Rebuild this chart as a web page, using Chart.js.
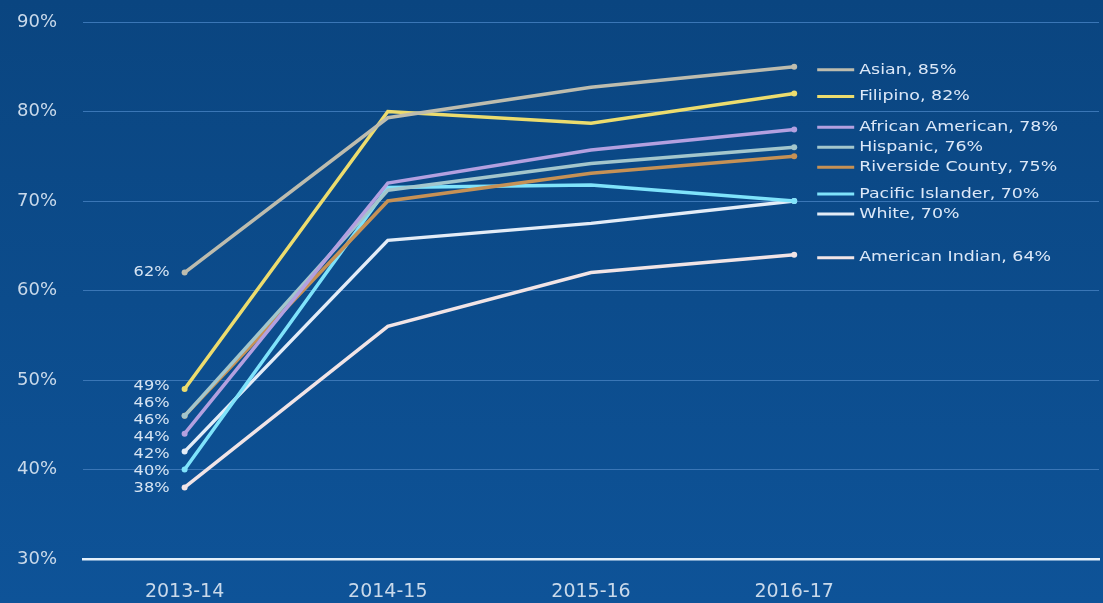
<!DOCTYPE html>
<html>
<head>
<meta charset="utf-8">
<title>Rates by group, 2013-14 to 2016-17</title>
<script src="https://cdn.jsdelivr.net/npm/chart.js@4"></script>
<style>
  html, body { margin: 0; padding: 0; background: #0b4987; }
  #chart { display: block; }
</style>
</head>
<body>
<canvas id="chart" width="1103" height="603"></canvas>
<script>
const years = ['2013-14', '2014-15', '2015-16', '2016-17'];
const groups = ['Asian', 'Filipino', 'African American', 'Hispanic', 'Riverside County', 'Pacific Islander', 'White', 'American Indian'];

const asian = [62, 79.3, 82.7, 85];
const filipino = [49, 80, 78.7, 82];
const africanAmerican = [44, 72, 75.7, 78];
const hispanic = [46, 71.2, 74.2, 76];
const riverside = [46, 70, 73.1, 75];
const pacificIslander = [40, 71.5, 71.8, 70];
const white = [42, 65.6, 67.5, 70];
const americanIndian = [38, 56, 62, 64];

const yTicks = [30, 40, 50, 60, 70, 80, 90];

const lineColors = ['#bdbcae', '#ecdc6e', '#b3a0e0', '#a3c6cc', '#c69155', '#7fe3fb', '#e3ecf7', '#f1e4e6'];
const series = [asian, filipino, africanAmerican, hispanic, riverside, pacificIslander, white, americanIndian];

// fill the whole canvas with the slide blue
const background = {
    id: 'background',
    beforeDraw(chart) {
        const { ctx, width, height } = chart;
        const g = ctx.createLinearGradient(0, 0, 0, height);
        g.addColorStop(0, '#0a4580');
        g.addColorStop(1, '#0e5398');
        ctx.save();
        ctx.fillStyle = g;
        ctx.fillRect(0, 0, width, height);
        ctx.restore();
    }
};

// push overlapping labels apart, keeping each cluster centred on its points
function spread(items, gap) {
    let blocks = items.map(it => ({ members: [it], top: it.y }));
    let merged = true;
    while (merged) {
        merged = false;
        for (let i = 0; i < blocks.length - 1; i++) {
            const a = blocks[i], b = blocks[i + 1];
            if (a.top + a.members.length * gap > b.top) {
                const members = a.members.concat(b.members);
                const mean = members.reduce((s, m) => s + m.y, 0) / members.length;
                blocks.splice(i, 2, { members, top: mean - (members.length - 1) * gap / 2 });
                merged = true;
                break;
            }
        }
    }
    blocks.forEach(b => b.members.forEach((m, k) => { m.ly = b.top + k * gap; }));
}

function wideText(ctx, text, x, y, align) {
    ctx.save();
    ctx.translate(x, y);
    ctx.scale(1.2, 1);
    ctx.textAlign = align;
    ctx.textBaseline = 'middle';
    ctx.fillText(text, 0, 0);
    ctx.restore();
}

const sideLabels = {
    id: 'sideLabels',
    afterDatasetsDraw(chart) {
        const { ctx } = chart;
        const xs = chart.scales.x, ys = chart.scales.y;
        const lastIdx = years.length - 1;
        const first = xs.getPixelForValue(0);
        const last = xs.getPixelForValue(lastIdx);
        const sets = chart.data.datasets;

        const left = sets.map(ds => ({ ds, y: ys.getPixelForValue(ds.data[0]) }))
            .sort((a, b) => a.y - b.y);
        spread(left, 17);
        ctx.save();
        ctx.fillStyle = '#d6e4f3';
        ctx.font = '13.5px "DejaVu Sans"';
        left.forEach(it => wideText(ctx, it.ds.data[0] + '%', first - 15, it.ly, 'right'));

        const right = sets.map(ds => ({ ds, y: ys.getPixelForValue(ds.data[lastIdx]) }))
            .sort((a, b) => a.y - b.y);
        spread(right, 20);
        ctx.font = '14.5px "DejaVu Sans"';
        right.forEach(it => {
            const ly = it.ly + 3;
            ctx.strokeStyle = it.ds.borderColor;
            ctx.lineWidth = 3;
            ctx.beginPath();
            ctx.moveTo(last + 23, ly);
            ctx.lineTo(last + 60, ly);
            ctx.stroke();
            ctx.fillStyle = '#dce8f8';
            wideText(ctx, it.ds.label + ', ' + Math.round(it.ds.data[lastIdx]) + '%', last + 65, ly, 'left');
        });
        ctx.restore();
    }
};

const datasets = groups.map((name, i) => ({
    label: name,
    data: series[i],
    borderColor: lineColors[i],
    backgroundColor: lineColors[i],
    borderWidth: 3.5,
    tension: 0,
    pointRadius: ctx => (ctx.dataIndex === 0 || ctx.dataIndex === years.length - 1) ? 3 : 0,
    pointBorderWidth: 0
}));

new Chart(document.getElementById('chart'), {
    type: 'line',
    data: {
        // the empty fifth slot leaves room for the end labels
        labels: [...years, ''],
        datasets: datasets
    },
    options: {
        responsive: false,
        animation: false,
        layout: { padding: { top: 22, right: 0, bottom: 0, left: 0 } },
        plugins: {
            legend: { display: false },
            tooltip: { enabled: false }
        },
        scales: {
            x: {
                offset: true,
                grid: { display: false },
                border: { display: true, color: '#e4f0fb', width: 2.5 },
                ticks: {
                    color: '#c9d9ea',
                    font: { family: 'DejaVu Sans', size: 19 },
                    padding: 14,
                    maxRotation: 0
                },
                afterFit(scale) { scale.height = 44; }
            },
            y: {
                min: yTicks[0],
                max: yTicks[yTicks.length - 1],
                afterBuildTicks(scale) { scale.ticks = yTicks.map(v => ({ value: v })); },
                ticks: {
                    color: '#c9d9ea',
                    font: { family: 'DejaVu Sans', size: 18 },
                    padding: 26,
                    callback: v => v + '%'
                },
                grid: {
                    color: ctx => ctx.tick && ctx.tick.value === yTicks[0] ? 'rgba(0,0,0,0)' : '#3a76b6',
                    drawTicks: false,
                    lineWidth: 1
                },
                border: { display: false },
                afterFit(scale) {
                    scale.width = 83;
                    // tick padding would otherwise push the plot top down
                    scale.paddingTop = 0;
                    scale.paddingBottom = 0;
                }
            }
        }
    },
    plugins: [background, sideLabels]
});
</script>
</body>
</html>
